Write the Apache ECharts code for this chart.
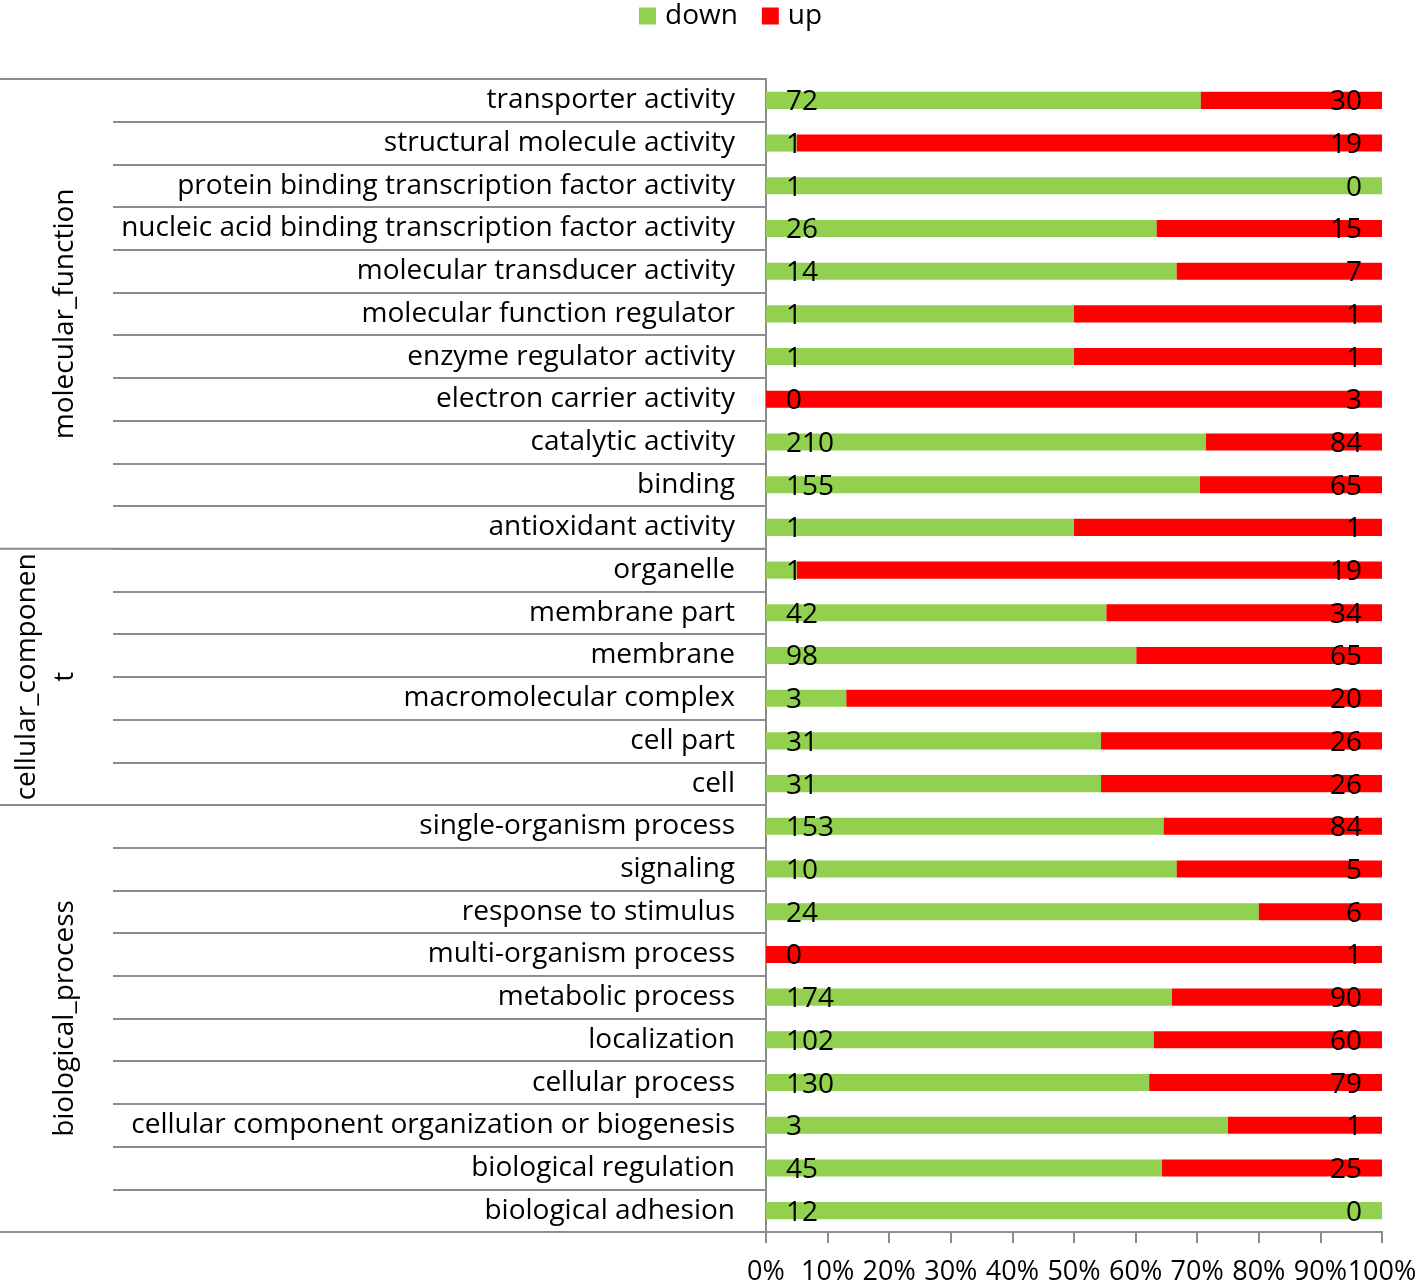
<!DOCTYPE html>
<html><head><meta charset="utf-8">
<script src="https://cdn.jsdelivr.net/npm/echarts@6/dist/echarts.min.js"></script>
<style>html,body{margin:0;padding:0;background:#fff}#c{width:1418px;height:1287px}</style>
</head><body><div id="c"></div>
<script>
const categories = [
 "transporter activity","structural molecule activity","protein binding transcription factor activity",
 "nucleic acid binding transcription factor activity","molecular transducer activity","molecular function regulator",
 "enzyme regulator activity","electron carrier activity","catalytic activity","binding","antioxidant activity",
 "organelle","membrane part","membrane","macromolecular complex","cell part","cell",
 "single-organism process","signaling","response to stimulus","multi-organism process","metabolic process",
 "localization","cellular process","cellular component organization or biogenesis","biological regulation","biological adhesion"];
const downCounts = [72,1,1,26,14,1,1,0,210,155,1, 1,42,98,3,31,31, 153,10,24,0,174,102,130,3,45,12];
const upCounts   = [30,19,0,15,7,1,1,3,84,65,1, 19,34,65,20,26,26, 84,5,6,1,90,60,79,1,25,0];
const groups = [
 {name:"molecular_function", lines:["molecular_function"], start:0, end:10},
 {name:"cellular_component", lines:["cellular_componen","t"], start:11, end:16},
 {name:"biological_process", lines:["biological_process"], start:17, end:26}];
const xTicks = [0,10,20,30,40,50,60,70,80,90,100];

const FONT = "Open Sans";
const FS = 28;
const GRAY = "#8c8c8c";
const downPct = downCounts.map((d,i)=>{const t=d+upCounts[i];return t? d/t*100:0;});
const upPct = upCounts.map((u,i)=>{const t=downCounts[i]+u;return t? u/t*100:0;});

const chart = echarts.init(document.getElementById('c'));
chart.setOption({
  animation:false,
  textStyle:{fontFamily:FONT},
  legend:{top:-3,left:634,itemWidth:17,itemHeight:17,itemGap:24,icon:'rect',
    textStyle:{fontSize:FS,color:'#000',fontFamily:FONT,padding:[0,0,0,4]},data:['down','up']},
  grid:{left:766,right:36,top:79,bottom:55,containLabel:false,outerBoundsMode:'none'},
  xAxis:{type:'value',min:0,max:100,interval:10,
    axisLine:{show:true,lineStyle:{color:GRAY,width:2}},
    axisTick:{show:true,length:11,lineStyle:{color:GRAY,width:2}},
    splitLine:{show:false},
    axisLabel:{fontSize:27,color:'#000',margin:27,fontFamily:FONT,showMaxLabel:true,showMinLabel:true,hideOverlap:false,
      formatter:v=>v+'%'}},
  yAxis:{type:'category',inverse:true,data:categories,
    axisLine:{show:true,lineStyle:{color:GRAY,width:2}},
    axisTick:{show:true,length:653,lineStyle:{color:GRAY,width:2}},
    axisLabel:{fontSize:FS,color:'#000',margin:31,fontFamily:FONT,padding:[3,0,0,0]}},
  series:[
    {name:'down',type:'bar',stack:'t',data:downPct,barWidth:'40%',itemStyle:{color:'#92D050'},
     label:{show:true,position:[20,'50%'],offset:[0,2],align:'left',verticalAlign:'middle',fontSize:FS,color:'#000',fontFamily:FONT,
       formatter:p=>String(downCounts[p.dataIndex])}},
    {name:'up',type:'bar',stack:'t',data:upPct,barWidth:'40%',itemStyle:{color:'#FF0000'},
     label:{show:true,position:'insideRight',distance:20,offset:[0,2],fontSize:FS,color:'#000',fontFamily:FONT,
       formatter:p=>String(upCounts[p.dataIndex])}}
  ]
});

const y0 = chart.convertToPixel({yAxisIndex:0}, 0);
const y1 = chart.convertToPixel({yAxisIndex:0}, 1);
const band = y1 - y0;
const xAxisPx = chart.convertToPixel({xAxisIndex:0}, 0);
const elems = [];
const boundaries = new Set();
groups.forEach(g=>{
  const top = chart.convertToPixel({yAxisIndex:0}, g.start) - band/2;
  const bot = chart.convertToPixel({yAxisIndex:0}, g.end) + band/2;
  boundaries.add(Math.round(top*10)/10); boundaries.add(Math.round(bot*10)/10);
  const mid = (top+bot)/2;
  const n = g.lines.length;
  g.lines.forEach((ln,k)=>{
    const cx = n===1 ? 65 : (k===0 ? 27 : 65);
    elems.push({type:'text',x:cx,y:mid,rotation:Math.PI/2,
      style:{text:ln,fontSize:FS,fontFamily:FONT,fill:'#000',align:'center',verticalAlign:'middle'}});
  });
});
boundaries.forEach(by=>{
  elems.push({type:'line',shape:{x1:0,y1:by,x2:xAxisPx,y2:by},style:{stroke:GRAY,lineWidth:2}});
});
chart.setOption({graphic:{elements:elems}});
</script></body></html>
